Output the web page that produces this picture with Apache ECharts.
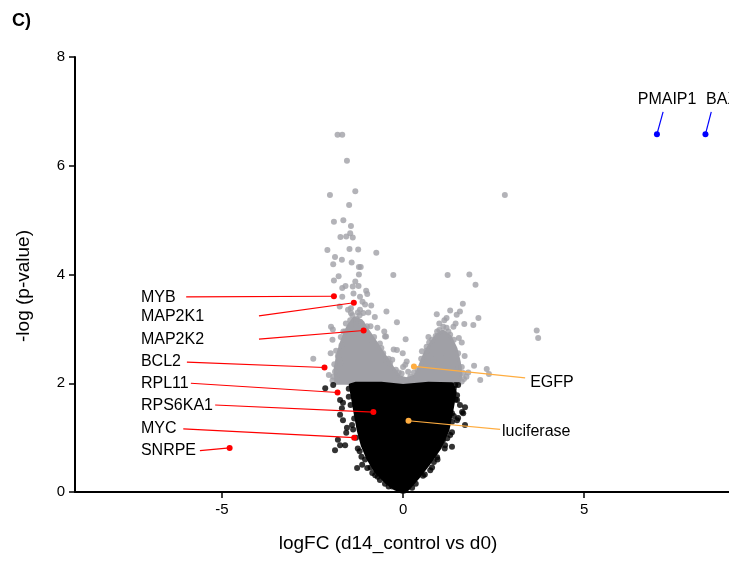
<!DOCTYPE html>
<html><head><meta charset="utf-8">
<script src="https://cdn.jsdelivr.net/npm/echarts@6/dist/echarts.min.js"></script>
<style>html,body{margin:0;padding:0;background:#fff}#c{width:729px;height:563px}</style>
</head><body><div id="c"></div>
<script>
// ---- tick labels ----
const xTicks = [-5, 0, 5];
const yTicks = [0, 2, 4, 6, 8];

// ---- significant (gray) genes: [logFC, -log p] ----
const grayPoints = [
 [-1.81,6.57],[-1.68,6.57],[-1.55,6.09],[-2.02,5.46],[-1.32,5.53],[-1.49,5.28],[2.81,5.46],
 [-1.91,4.97],[-1.65,5.00],[-1.44,4.89],[-1.73,4.69],[-1.57,4.70],[-1.39,4.68],[-1.46,4.76],
 [-2.09,4.45],[-1.48,4.47],[-1.24,4.46],[-0.74,4.40],[-1.88,4.32],[-1.93,4.19],[-1.69,4.27],
 [-1.42,4.22],[-1.22,4.14],[-1.17,4.14],[-1.22,4.00],[-0.27,3.99],[-1.78,3.97],[-1.91,3.89],
 [-1.32,3.87],[1.23,3.99],[1.83,4.00],[2.00,3.81],[-1.68,3.75],[-1.59,3.79],[-1.39,3.78],
 [-1.23,3.79],[-1.68,3.59],[-1.02,3.70],[-0.99,3.64],[-1.37,3.65],[-1.12,3.50],[-0.88,3.43],
 [-1.19,3.59],[-1.75,3.41],[-1.44,3.38],[-1.19,3.35],[1.65,3.46],[1.57,3.32],[1.30,3.34],
 [1.48,3.26],[0.93,3.27],[-0.46,3.32],[-1.44,3.29],[-1.10,3.29],[-0.96,3.30],[2.08,3.20],
 [1.94,3.07],[1.69,3.09],[1.14,3.16],[1.39,3.04],[1.11,3.04],[-0.17,3.12],[-1.46,3.16],
 [-1.28,3.18],[-0.78,3.22],[-1.99,3.04],[-1.94,2.99],[-1.44,3.07],[-1.14,3.10],[-0.71,3.02],
 [-0.52,2.95],[-0.47,2.86],[0.94,2.95],[0.90,2.87],[1.54,2.83],[1.30,2.89],[3.69,2.97],
 [3.73,2.83],[0.07,2.81],[-2.48,2.45],[-0.26,2.62],[-0.01,2.55],[-1.76,2.43],[-1.83,2.29],
 [0.65,2.67],[0.52,2.59],[0.84,2.43],[1.39,2.64],[1.21,2.50],[1.96,2.32],[2.31,2.26],
 [2.37,2.17],[1.54,2.30],[0.06,2.34],[-0.47,2.43],[-0.30,2.43],[0.10,2.40],[0.00,2.30],
 [0.14,2.21],[0.38,2.15],[0.06,2.06],[0.33,2.00],[1.66,2.19],[2.13,2.06],[1.62,2.03],
 [-1.88,2.21],[-1.83,2.06],[-1.74,2.37],[-1.93,2.12],[-0.04,2.18],[-0.17,2.61],[-0.50,2.86],
 [-0.64,2.73],[-0.36,2.37],[-0.22,2.06],[-1.60,2.95],[-1.30,3.00],[-0.90,3.05],[-1.70,2.70],
 [-1.52,3.35],[-1.05,3.45],[1.00,3.10],[1.20,3.20],[1.45,3.10],[1.62,2.75],[1.70,2.50],
 [0.70,2.85],[0.60,2.40],[1.80,2.20],[-2.00,2.55],[-1.95,2.80],
 [-1.90,2.35],[-1.85,2.60],[-1.72,2.85],[-1.58,3.10],[-1.40,3.25],[-1.20,3.25],[-1.00,3.05],
 [-0.80,2.85],[-0.60,2.65],[-0.40,2.45],[-0.20,2.25],[-1.95,2.05],[-1.80,2.50],[-1.65,2.95],
 [-1.25,3.30],[-0.85,2.78],[-0.55,2.55],[0.40,2.25],[0.50,2.45],[0.65,2.60],[0.80,2.80],
 [1.00,2.98],[1.20,3.02],[1.40,2.80],[1.52,2.55],[1.62,2.30],[1.68,2.08],[0.30,2.20],
 [1.25,2.95],[0.72,2.75],[0.20,2.12],[-0.12,2.20],[1.75,2.12],[-2.05,2.15]
];
// dense core of the significant cloud (outline vertices)
const grayCore = [
 [-1.85,2.00],[-1.88,2.25],[-1.80,2.55],[-1.68,2.80],[-1.52,3.05],[-1.35,3.20],[-1.15,3.15],
 [-0.95,2.95],[-0.72,2.72],[-0.50,2.50],[-0.30,2.30],[-0.10,2.12],[0.10,2.08],[0.35,2.14],
 [0.45,2.30],[0.58,2.52],[0.75,2.72],[0.92,2.88],[1.10,2.96],[1.30,2.86],[1.46,2.64],
 [1.55,2.40],[1.60,2.15],[1.55,2.00]
];

// ---- non-significant (black) genes ----
const blackCore = [
 [-0.05,0],[-0.22,0.055],[-0.47,0.18],[-0.75,0.37],[-0.97,0.61],[-1.13,0.86],[-1.24,1.14],
 [-1.33,1.47],[-1.41,1.78],[-1.46,1.97],[-1.30,2.00],[-0.60,2.00],[0,1.96],[0.70,2.00],
 [1.35,1.99],[1.44,1.84],[1.35,1.51],[1.24,1.14],[1.02,0.81],[0.69,0.50],[0.41,0.26],
 [0.19,0.09],[0.05,0]
];
const blackPoints = [
 [-2.15,1.91],[-1.93,1.97],[-1.74,1.69],[-1.69,1.54],[-1.74,1.42],[-1.66,1.32],[-1.55,1.18],
 [-1.80,0.96],[-1.74,0.86],[-1.88,0.77],[-1.60,0.86],[-1.41,1.23],[-1.27,0.44],[-1.13,0.50],
 [-0.99,0.44],[-0.77,0.31],[-0.64,0.22],[-0.50,0.15],[-1.66,1.64],[-1.57,1.09],[-1.50,1.90],
 [-1.45,1.60],[-1.35,1.35],[-1.30,1.00],[-1.20,0.75],[-1.05,0.60],[-0.90,0.45],
 [1.44,1.97],[1.52,1.97],[1.49,1.78],[1.49,1.69],[1.57,1.60],[1.71,1.56],[1.66,1.45],
 [1.35,1.45],[1.49,1.32],[1.71,1.23],[1.63,1.47],[1.52,1.36],[1.35,1.29],[1.35,1.10],
 [1.22,0.99],[1.16,0.86],[1.35,0.83],[0.94,0.64],[0.75,0.40],[1.40,1.90],[1.30,1.70],
 [1.10,0.95],[0.85,0.55],[0.55,0.30],
 [-1.50,1.75],[-1.38,1.15],[-1.25,0.80],[-1.15,0.65],[-0.85,0.35],[-0.70,0.28],[-0.40,0.10],
 [1.45,1.70],[1.40,1.40],[1.30,1.05],[1.15,0.80],[0.95,0.60],[0.80,0.45],[0.60,0.32],
 [0.35,0.15],[-0.30,0.10],[0.25,0.08]
];

// ---- highlighted genes ----
const redGenes = ['MYB','MAP2K1','MAP2K2','BCL2','RPL11','RPS6KA1','MYC','SNRPE'];
const redX = [-1.91,-1.36,-1.09,-2.17,-1.81,-0.82,-1.35,-4.79];
const redY = [3.60,3.48,2.97,2.29,1.83,1.47,1.00,0.81];
const orangeGenes = ['EGFP','luciferase'];
const orangeX = [0.30,0.15];
const orangeY = [2.31,1.31];
const blueGenes = ['PMAIP1','BAX'];
const blueX = [7.01,8.35];
const blueY = [6.58,6.58];

// label anchors (data space): line start and text position
const redLineX = [-5.99,-3.98,-3.98,-5.97,-5.86,-5.19,-6.07,-5.61];
const redLineY = [3.59,3.24,2.81,2.39,2.00,1.60,1.16,0.76];
const redTextY = [3.57,3.23,2.81,2.39,2.00,1.58,1.16,0.76];
const redTextX = -7.24;
const orangeLineX = [3.37,2.68], orangeLineY = [2.10,1.15];
const orangeTextX = [3.51,2.73], orangeTextY = [2.01,1.12];
const blueLineX = [7.18,8.51], blueLineY = [6.99,6.99];
const blueTextX = [7.29,8.81], blueTextY = [7.21,7.21];

const FONT = "'Liberation Sans', Arial, Helvetica, sans-serif";
const chart = echarts.init(document.getElementById('c'), null, {renderer:'canvas'});

function polySeries(points, color, z) {
  return {
    type:'custom', coordinateSystem:'cartesian2d', z:z, silent:true,
    data:[points[0]],
    renderItem:(params, api) => ({
      type:'polygon',
      shape:{points: points.map(p => api.coord(p))},
      style:{fill:color, stroke:color, lineWidth:3, lineJoin:'round'}
    })
  };
}

function labelSeries(names, px, py, lx, ly, tx, ty, color, align) {
  const data = names.map((n,i) => [px[i], py[i], lx[i], ly[i],
     Array.isArray(tx) ? tx[i] : tx, ty[i], i]);
  return {
    type:'custom', coordinateSystem:'cartesian2d', z:20, silent:true,
    data:data,
    renderItem:(params, api) => {
      const p = api.coord([api.value(0), api.value(1)]);
      const l = api.coord([api.value(2), api.value(3)]);
      const t = api.coord([api.value(4), api.value(5)]);
      const name = names[api.value(6)];
      return {type:'group', children:[
        {type:'line', shape:{x1:l[0],y1:l[1],x2:p[0],y2:p[1]}, style:{stroke:color, lineWidth:1.2}},
        {type:'text', x:t[0], y:t[1], style:{text:name, fill:'#000', font:'16px '+FONT,
          align: align, verticalAlign:'middle'}},
        {type:'circle', shape:{cx:p[0], cy:p[1], r:3}, style:{fill:color}}
      ]};
    }
  };
}

chart.setOption({
  animation:false,
  backgroundColor:'#fff',
  grid:{left:75, right:0, top:57, bottom:71, containLabel:false},
  xAxis:{
    type:'value', min:-9.06, max:9.0,
    axisLine:{show:true, onZero:false, lineStyle:{color:'#000', width:2}},
    axisTick:{show:true, customValues:xTicks, length:6, lineStyle:{color:'#000', width:1.5}},
    axisLabel:{customValues:xTicks, color:'#000', fontSize:15, fontFamily:FONT, margin:10},
    splitLine:{show:false}
  },
  yAxis:{
    type:'value', min:0, max:8, interval:2,
    axisLine:{show:true, onZero:false, lineStyle:{color:'#000', width:2}},
    axisTick:{show:true, customValues:yTicks, length:6, lineStyle:{color:'#000', width:1.5}},
    axisLabel:{customValues:yTicks, color:'#000', fontSize:15, fontFamily:FONT, margin:10},
    splitLine:{show:false}
  },
  graphic:[
    {type:'text', left:12, top:12, style:{text:'C)', font:'bold 18px '+FONT, fill:'#000'}},
    {type:'text', x:388, y:544, style:{text:'logFC (d14_control vs d0)', font:'19px '+FONT,
      fill:'#000', align:'center', verticalAlign:'middle'}},
    {type:'text', x:24, y:286, rotation:Math.PI/2, style:{text:'-log (p-value)', font:'19px '+FONT,
      fill:'#000', align:'center', verticalAlign:'middle'}}
  ],
  series:[
    polySeries(grayCore, '#a0a0a6', 2),
    {type:'scatter', data:grayPoints, symbolSize:6, z:3, itemStyle:{color:'#a0a0a6'}, silent:true},
    polySeries(blackCore, '#000', 4),
    {type:'scatter', data:blackPoints, symbolSize:6, z:5, itemStyle:{color:'#000'}, silent:true},
    labelSeries(redGenes, redX, redY, redLineX, redLineY, redTextX, redTextY, '#ff0000', 'left'),
    labelSeries(orangeGenes, orangeX, orangeY, orangeLineX, orangeLineY, orangeTextX, orangeTextY, '#ffad40', 'left'),
    labelSeries(blueGenes, blueX, blueY, blueLineX, blueLineY, blueTextX, blueTextY, '#0000ff', 'center')
  ]
});
</script></body></html>
